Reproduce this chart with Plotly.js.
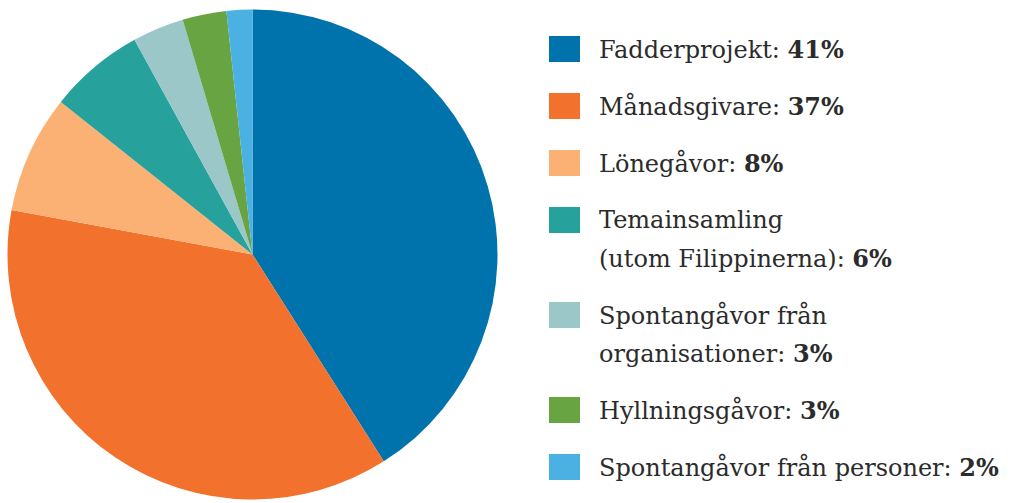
<!DOCTYPE html>
<html>
<head>
<meta charset="utf-8">
<script src="https://cdn.plot.ly/plotly-3.0.1.min.js"></script>
<style>html,body{margin:0;padding:0;background:#fff;}#chart{width:1010px;height:503px;}</style>
</head>
<body>
<div id="chart"></div>
<script>
const categories = ["Fadderprojekt", "Månadsgivare", "Lönegåvor", "Temainsamling\n(utom Filippinerna)", "Spontangåvor från\norganisationer", "Hyllningsgåvor", "Spontangåvor från personer"];
const values = [41.0, 36.9, 7.8, 6.3, 3.4, 2.9, 1.7];
// percentages as printed in the legend
const percentLabels = ["41%", "37%", "8%", "6%", "3%", "3%", "2%"];
const colors = ["#0073ad", "#f2712c", "#fbb174", "#27a19b", "#9bc7c8", "#69a443", "#4bb0e2"];

const W = 1010, H = 503;
const FONT = "DejaVu Serif";
const FS = 24;
const TEXTC = "#2b2b2b";

const shapes = [];
const annotations = [];
let yc = 49; // first line centre in px
const entryGap = 57, lineGap = 38;
categories.forEach((c, i) => {
  const lines = c.split("\n");
  shapes.push({
    type: "rect", xref: "paper", yref: "paper",
    x0: 549 / W, x1: 580 / W,
    y0: 1 - (yc - 13) / H, y1: 1 - (yc + 13) / H,
    fillcolor: colors[i], line: {width: 0}
  });
  lines.forEach((ln, j) => {
    let txt = ln;
    if (j === lines.length - 1) txt = ln + ": <b>" + percentLabels[i] + "</b>";
    annotations.push({
      xref: "paper", yref: "paper",
      x: 597 / W, y: 1 - (yc + j * lineGap) / H,
      xanchor: "left", yanchor: "middle",
      text: txt, showarrow: false,
      font: {family: FONT, size: FS, color: TEXTC}
    });
  });
  yc += (lines.length - 1) * lineGap + entryGap;
});

const data = [{
  type: "pie",
  labels: categories,
  values: values,
  sort: false,
  direction: "clockwise",
  rotation: 0,
  marker: {colors: colors, line: {width: 0}},
  textinfo: "none",
  hoverinfo: "none",
  showlegend: false,
  domain: {x: [7.5 / W, 497.5 / W], y: [1 - 499.5 / H, 1 - 9.5 / H]}
}];

const layout = {
  width: W, height: H,
  margin: {l: 0, r: 0, t: 0, b: 0},
  paper_bgcolor: "#ffffff",
  showlegend: false,
  shapes: shapes,
  annotations: annotations
};

Plotly.newPlot("chart", data, layout, {displayModeBar: false, staticPlot: true});
</script>
</body>
</html>
